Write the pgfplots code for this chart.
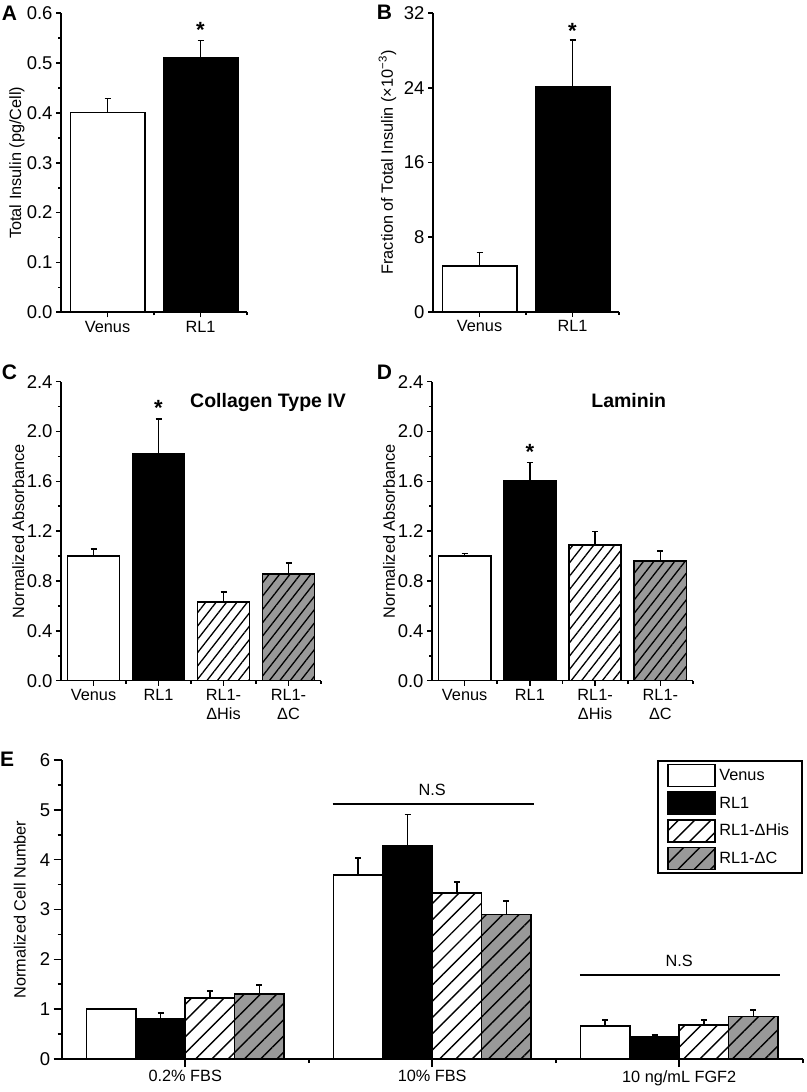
\documentclass[border=0pt]{standalone}
\usepackage{fontspec}
\setmainfont{Liberation Sans}
\usepackage{pgfplots}
\pgfplotsset{compat=1.18}
\usetikzlibrary{patterns.meta}
\definecolor{hatchgray}{gray}{0.6}
\newcommand\tickfont{\fontsize{18.5bp}{22bp}\selectfont}
\newcommand\labfont{\fontsize{16.3bp}{19.5bp}\selectfont}
\newcommand\titfont{\fontsize{19.5bp}{23bp}\selectfont\bfseries}
\newcommand\panelfont{\fontsize{21bp}{25bp}\selectfont\bfseries}
\newcommand\starfont{\fontsize{22bp}{25bp}\selectfont\bfseries}
\pgfplotsset{
  panel/.style={
    scale only axis, axis lines=left, axis line style={-,line width=1.6bp},
    ybar, bar shift=0pt, bar width=0.8,
    tick align=outside, major tick length=5bp, minor tick length=3bp,
    every tick/.append style={black,line width=1.6bp},
    tick label style={font=\tickfont},
    xticklabel style={font=\labfont, align=center},
    ylabel style={font=\labfont, at={(axis description cs:#1,0.5)}, anchor=center},
    ymin=0, enlargelimits=false, clip=false,
    /pgf/number format/assume math mode=true,
    error bars/y dir=plus, error bars/y explicit,
    error bars/error bar style={line width=1.6bp,black},
    error bars/error mark options={rotate=90,mark size=3bp,line width=1.6bp,black},
  },
  venus/.style={fill=white,draw=black,line width=1.6bp},
  rl/.style={fill=black,draw=black,line width=1.6bp},
  his/.style={fill=white,draw=black,line width=1.6bp,postaction={pattern={Lines[angle=52,distance=8.2bp,line width=1.3bp]}}},
  dc/.style={fill=hatchgray,draw=black,line width=1.6bp,postaction={pattern={Lines[angle=52,distance=8.2bp,line width=1.3bp]}}},
  hisE/.style={fill=white,draw=black,line width=1.6bp,postaction={pattern={Lines[angle=45,distance=11.5bp,line width=1.4bp]}}},
  dcE/.style={fill=hatchgray,draw=black,line width=1.6bp,postaction={pattern={Lines[angle=45,distance=11.5bp,line width=1.4bp]}}},
}
\begin{document}
\begin{tikzpicture}
\useasboundingbox (0bp,0bp) rectangle (807bp,1092bp);
% ---------- A
\begin{axis}[panel=-0.2366, at={(61bp,779.7bp)}, anchor=south west, width=186bp, height=299bp,
  xmin=-0.5, xmax=1.5, ymax=0.6, ytick={0,0.1,0.2,0.3,0.4,0.5,0.6}, minor y tick num=1,
  xtick={0,1}, xticklabels={Venus,RL1}, minor xtick={0.5,1.5},
  yticklabel style={/pgf/number format/.cd,fixed,fixed zerofill,precision=1},
  ylabel={Total Insulin (pg/Cell)}]
\addplot[venus] coordinates {(0,0.401) +- (0,0.028)};
\addplot[rl] coordinates {(1,0.511) +- (0,0.034)};
\node[font=\starfont, anchor=base] at (axis cs:1,0.551) {*};
\end{axis}
% ---------- B
\begin{axis}[panel=-0.245, at={(433bp,780bp)}, anchor=south west, width=186bp, height=299bp,
  xmin=-0.5, xmax=1.5, ymax=32, ytick={0,8,16,24,32},
  xtick={0,1}, xticklabels={Venus,RL1}, minor xtick={0.5,1.5},
  ylabel={Fraction of Total Insulin (×10\textsuperscript{−3})}]
\addplot[venus] coordinates {(0,4.9) +- (0,1.47)};
\addplot[rl] coordinates {(1,24.1) +- (0,5.0)};
\node[font=\starfont, anchor=base] at (axis cs:1,29.31) {*};
\end{axis}
% ---------- C
\begin{axis}[panel=-0.164, at={(61bp,411.3bp)}, anchor=south west, width=260bp, height=299bp,
  xmin=-0.5, xmax=3.5, ymax=2.4, ytick={0,0.4,0.8,1.2,1.6,2.0,2.4}, minor y tick num=1,
  xtick={0,1,2,3}, xticklabels={Venus,RL1,RL1-\\ΔHis,RL1-\\ΔC}, minor xtick={0.5,1.5,2.5,3.5},
  yticklabel style={/pgf/number format/.cd,fixed,fixed zerofill,precision=1},
  ylabel={Normalized Absorbance}]
\addplot[venus] coordinates {(0,1.0) +- (0,0.057)};
\addplot[rl] coordinates {(1,1.825) +- (0,0.277)};
\addplot[his] coordinates {(2,0.63) +- (0,0.08)};
\addplot[dc] coordinates {(3,0.855) +- (0,0.092)};
\node[font=\starfont, anchor=base] at (axis cs:1,2.128) {*};
\node[font=\titfont, anchor=base] at (axis cs:2.685,2.194) {Collagen Type IV};
\end{axis}
% ---------- D
\begin{axis}[panel=-0.165, at={(432bp,411.3bp)}, anchor=south west, width=261bp, height=299bp,
  xmin=-0.5, xmax=3.5, ymax=2.4, ytick={0,0.4,0.8,1.2,1.6,2.0,2.4}, minor y tick num=1,
  xtick={0,1,2,3}, xticklabels={Venus,RL1,RL1-\\ΔHis,RL1-\\ΔC}, minor xtick={0.5,1.5,2.5,3.5},
  yticklabel style={/pgf/number format/.cd,fixed,fixed zerofill,precision=1},
  ylabel={Normalized Absorbance}]
\addplot[venus] coordinates {(0,1.0) +- (0,0.02)};
\addplot[rl] coordinates {(1,1.605) +- (0,0.145)};
\addplot[his] coordinates {(2,1.089) +- (0,0.107)};
\addplot[dc] coordinates {(3,0.96) +- (0,0.08)};
\node[font=\starfont, anchor=base] at (axis cs:1,1.774) {*};
\node[font=\titfont, anchor=base] at (axis cs:2.515,2.194) {Laminin};
\end{axis}
% ---------- E
\begin{axis}[panel=-0.0567, at={(61.7bp,33bp)}, anchor=south west, width=741bp, height=299bp,
  bar width=0.2, major tick length=8bp, minor tick length=4bp,
  xmin=-0.5, xmax=2.5, ymax=6, ytick={0,1,2,3,4,5,6}, minor y tick num=1,
  xtick={0,1,2}, xticklabels={0.2\% FBS,10\% FBS,10 ng/mL FGF2}, minor xtick={0.5,1.5,2.5},
  ylabel={Normalized Cell Number},
  legend style={at={(1,1)}, anchor=north east, draw=black, line width=1.6bp, font=\labfont,
    cells={anchor=west}, inner xsep=9bp, inner ysep=3bp, row sep=4bp,
    nodes={inner xsep=3.8bp, inner ysep=0pt}},
  legend image code/.code={\draw[#1] (0bp,-11bp) rectangle (47bp,11bp);}]
\addplot[venus, bar shift=-0.3] coordinates {(0,1.0) +- (0,0) (1,3.69) +- (0,0.34) (2,0.66) +- (0,0.12)};
\addplot[rl, bar shift=-0.1] coordinates {(0,0.80) +- (0,0.12) (1,4.28) +- (0,0.63) (2,0.44) +- (0,0.04)};
\addplot[hisE, bar shift=0.1] coordinates {(0,1.22) +- (0,0.15) (1,3.33) +- (0,0.22) (2,0.68) +- (0,0.10)};
\addplot[dcE, bar shift=0.3] coordinates {(0,1.30) +- (0,0.19) (1,2.90) +- (0,0.27) (2,0.85) +- (0,0.13)};
\legend{Venus,RL1,RL1-ΔHis,RL1-ΔC}
\draw[line width=1.6bp] (axis cs:0.597,5.12) -- (axis cs:1.4125,5.12);
\node[font=\labfont, anchor=base] at (axis cs:1.0,5.28) {N.S};
\draw[line width=1.6bp] (axis cs:1.598,1.69) -- (axis cs:2.41,1.69);
\node[font=\labfont, anchor=base] at (axis cs:2.0,1.852) {N.S};
\end{axis}
% panel letters
\node[font=\panelfont, anchor=base west, inner sep=0] at (1.7bp,1071.3bp) {A};
\node[font=\panelfont, anchor=base west, inner sep=0] at (376.7bp,1072bp) {B};
\node[font=\panelfont, anchor=base west, inner sep=0] at (1.7bp,712bp) {C};
\node[font=\panelfont, anchor=base west, inner sep=0] at (376.7bp,712bp) {D};
\node[font=\panelfont, anchor=base west, inner sep=0] at (0bp,325.3bp) {E};
\end{tikzpicture}
\end{document}
